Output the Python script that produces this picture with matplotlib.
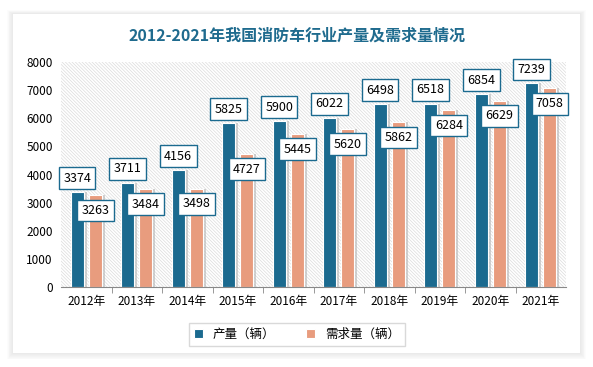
import matplotlib.pyplot as plt
import numpy as np
from matplotlib.patches import Rectangle

plt.rcParams['font.family'] = ['Noto Sans CJK SC', 'DejaVu Sans']
plt.rcParams['hatch.color'] = '#dcdcdc'
plt.rcParams['hatch.linewidth'] = 0.5

years = ['2012年', '2013年', '2014年', '2015年', '2016年',
         '2017年', '2018年', '2019年', '2020年', '2021年']
produccion = [3374, 3711, 4156, 5825, 5900, 6022, 6498, 6518, 6854, 7239]
demanda = [3263, 3484, 3498, 4727, 5445, 5620, 5862, 6284, 6629, 7058]

azul = '#1b6a8f'
salmon = '#e89c7e'

fig = plt.figure(figsize=(5.93, 3.67), dpi=100)
fig.patch.set_facecolor('white')

# tarjeta con sombra suave
for i in range(8):
    fig.patches.append(Rectangle((13 / 593 - i * 0.0015, 1 - 353 / 367 - i * 0.0025),
                                 567 / 593 + i * 0.003, 339 / 367 + i * 0.004,
                                 transform=fig.transFigure, facecolor='#000000',
                                 alpha=0.012, edgecolor='none', zorder=0))
fig.patches.append(Rectangle((13 / 593, 1 - 353 / 367), 567 / 593, 339 / 367,
                             transform=fig.transFigure, facecolor='white',
                             edgecolor='none', zorder=1))

fig.text(297 / 593, 1 - 36 / 367, '2012-2021年我国消防车行业产量及需求量情况',
         ha='center', va='center', fontsize=11.5, fontweight='bold', color='#1f6b8e')

ax = fig.add_axes([61 / 593, 1 - 287 / 367, 505 / 593, 225 / 367])
ax.set_zorder(2)
ax.patch.set_facecolor('white')
ax.patch.set_hatch('\\' * 10)
ax.patch.set_edgecolor('#dcdcdc')
ax.patch.set_linewidth(0)

x = np.arange(len(years))
w = 0.26
off = 0.18
sh = 0.06

ax.bar(x - off + sh, produccion, w, color='#b5b5b5', alpha=0.6, zorder=1)
ax.bar(x + off + sh, demanda, w, color='#b5b5b5', alpha=0.6, zorder=1)
ax.bar(x - off, produccion, w, color=azul, edgecolor='white', linewidth=0.8,
       label='产量（辆）', zorder=2)
ax.bar(x + off, demanda, w, color=salmon, edgecolor='white', linewidth=0.8,
       label='需求量（辆）', zorder=2)

caja = dict(boxstyle='square,pad=0.35', facecolor='white', edgecolor=azul, linewidth=1)
for i in range(len(years)):
    ax.annotate(str(produccion[i]), (x[i] - off, produccion[i]), xytext=(0, 10),
                textcoords='offset points', ha='center', va='center', fontsize=9,
                bbox=caja, zorder=5)
    ax.annotate(str(demanda[i]), (x[i] + off, demanda[i]), xytext=(0, -11),
                textcoords='offset points', ha='center', va='center', fontsize=9,
                bbox=caja, zorder=5)

ax.set_xlim(-0.5, len(years) - 0.5)
ax.set_ylim(0, 8000)
ax.set_yticks(range(0, 8001, 1000))
ax.set_xticks(x)
ax.set_xticklabels(years)
ax.set_xticks(np.arange(0.5, len(years) - 1, 1), minor=True)
ax.tick_params(axis='x', which='major', length=0, labelsize=8.5, pad=6)
ax.tick_params(axis='x', which='minor', length=4, color='#888888')
ax.tick_params(axis='y', length=0, labelsize=8.5, pad=6)
for s in ['top', 'right', 'left']:
    ax.spines[s].set_visible(False)
ax.spines['bottom'].set_color('#888888')

leg = fig.legend(loc='center', bbox_to_anchor=(297 / 593, 1 - 334 / 367), ncol=2,
                 fontsize=9, frameon=True, fancybox=False, edgecolor='#d0d0d0',
                 handlelength=0.7, handleheight=0.7, columnspacing=2.5,
                 borderpad=0.4)
leg.set_zorder(5)

fig.savefig('out.png', dpi=100)
